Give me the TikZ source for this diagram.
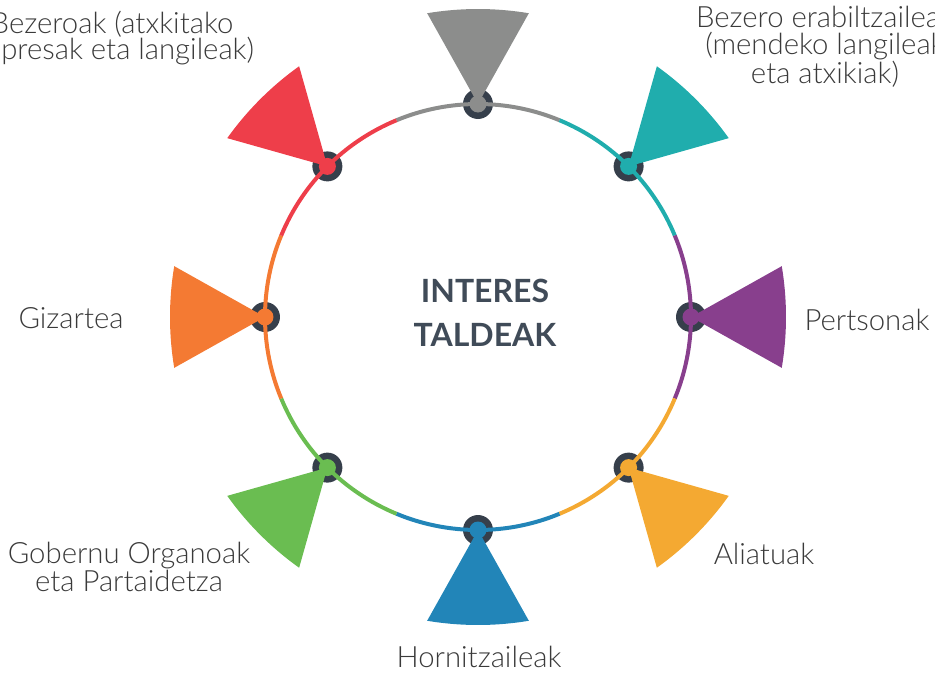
\documentclass[tikz,border=0pt]{standalone}
\usepackage{fontspec}
\setmainfont{Lato}
\newfontfamily\thinfont{Lato Light}
\usepackage{tikz}

\definecolor{igray}{HTML}{8C8D8C}
\definecolor{iteal}{HTML}{20ADAD}
\definecolor{ipurple}{HTML}{883F8D}
\definecolor{iyellow}{HTML}{F4A932}
\definecolor{iblue}{HTML}{2285B8}
\definecolor{igreen}{HTML}{6ABD51}
\definecolor{iorange}{HTML}{F47A33}
\definecolor{ired}{HTML}{EE3E4A}
\definecolor{idark}{HTML}{363F4B}
\definecolor{ititle}{HTML}{404B58}
\definecolor{ilabel}{HTML}{3A3A3A}

\tikzset{
  grouplabel/.style={font=\thinfont\fontsize{22}{20}\selectfont, text=ilabel, align=center},
  centretitle/.style={font=\bfseries\fontsize{24}{33}\selectfont, text=ititle, align=center}
}

\begin{document}
\begin{tikzpicture}[x=0.75pt,y=0.75pt]
  \useasboundingbox (-478,-355) rectangle (457,317);
  \foreach \a/\c in {90/igray,45/iteal,0/ipurple,-45/iyellow,-90/iblue,-135/igreen,180/iorange,135/ired}{
    \fill[idark] (\a:213) circle (15);
    \draw[\c, line width=3pt] (\a-22.5:213) arc (\a-22.5:\a+22.5:213);
    \fill[\c] (\a:213) -- (\a-9.5:308) arc (\a-9.5:\a+9.5:308) -- cycle;
    \fill[\c] (\a:213) circle (8.5);
  }
  \node[centretitle] (title) at (7,4) {INTERES\\TALDEAK};
  \node[grouplabel] (bezeroak) at (-366,279) {Bezeroak (atxkitako\\enpresak eta langileak)};
  \node[grouplabel] (erabiltzaileak) at (347,270) {Bezero erabiltzaileak\\(mendeko langileak\\eta atxikiak)};
  \node[grouplabel] (pertsonak) at (389,-3) {Pertsonak};
  \node[grouplabel] (aliatuak) at (286,-237) {Aliatuak};
  \node[grouplabel] (hornitzaileak) at (1,-340) {Hornitzaileak};
  \node[grouplabel] (gobernu) at (-349,-250) {Gobernu Organoak\\eta Partaidetza};
  \node[grouplabel] (gizartea) at (-407,-1) {Gizartea};
\end{tikzpicture}
\end{document}
